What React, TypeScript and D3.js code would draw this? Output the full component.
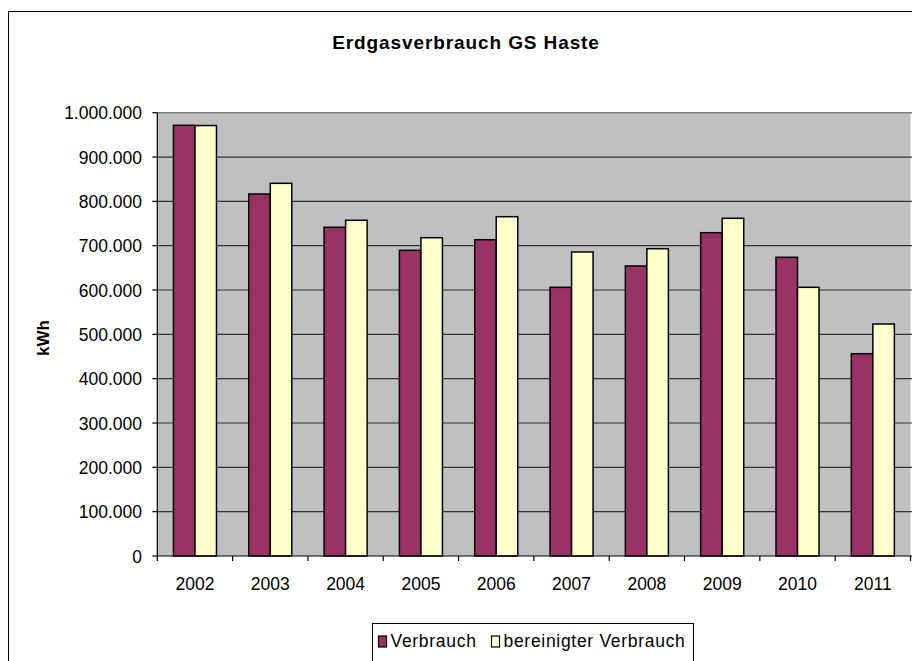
import * as d3 from "d3";

const years = ["2002", "2003", "2004", "2005", "2006", "2007", "2008", "2009", "2010", "2011"];
const verbrauch = [971600, 816600, 741500, 689600, 713500, 606100, 654200, 729300, 673800, 456300];
const bereinigt = [971000, 840700, 757300, 718000, 765400, 685800, 693200, 761800, 606100, 523300];
const yTicks = [0, 100000, 200000, 300000, 400000, 500000, 600000, 700000, 800000, 900000, 1000000];

const seriesNames = ["Verbrauch", "bereinigter Verbrauch"];
const seriesColors = ["#993366", "#FFFFCC"];

const W = 912;
const H = 661;
const plot = { left: 157.3, top: 112.7, right: 910.5, bottom: 556 };
const font = "'Liberation Sans', Arial, sans-serif";

const fmt = (v: number) => d3.format(",")(v).replace(/,/g, ".");

export default function App() {
  const x = d3.scaleBand<string>().domain(years).range([plot.left, plot.right]).paddingInner(0).paddingOuter(0);
  const bw = x.bandwidth() / 3.5;
  const x1 = d3.scaleBand<number>().domain([0, 1]).range([x.bandwidth() * 0.75 / 3.5, x.bandwidth() * 2.75 / 3.5]);
  const y = d3.scaleLinear().domain([0, 1000000]).range([plot.bottom, plot.top]);
  const series = [verbrauch, bereinigt];

  return (
    <svg width={W} height={H} style={{ position: "fixed", left: 0, top: 0, background: "#fff" }} fontFamily={font}>
      <rect x={8.5} y={11.5} width={W + 20} height={H + 20} fill="#fff" stroke="#000" strokeWidth={1} />
      <text x={466} y={49} textAnchor="middle" fontSize={19} fontWeight="bold" letterSpacing={0.9}>
        Erdgasverbrauch GS Haste
      </text>
      <rect x={plot.left} y={plot.top} width={plot.right - plot.left} height={plot.bottom - plot.top} fill="#C0C0C0" />
      <line x1={plot.left} x2={plot.right + 2} y1={plot.top} y2={plot.top} stroke="#808080" strokeWidth={1.5} />
      {yTicks.slice(1, -1).map((t) => (
        <line key={t} x1={plot.left} x2={plot.right + 2} y1={y(t)} y2={y(t)} stroke="#333" strokeWidth={1.2} />
      ))}
      {years.map((yr, i) => (
        <g key={yr}>
          {series.map((s, k) => (
            <rect
              key={k}
              x={(x(yr) as number) + (x1(k) as number)}
              y={y(s[i])}
              width={bw}
              height={plot.bottom - y(s[i])}
              fill={seriesColors[k]}
              stroke="#000"
              strokeWidth={1.5}
            />
          ))}
        </g>
      ))}
      <line x1={plot.left} x2={plot.left} y1={plot.top} y2={plot.bottom} stroke="#000" strokeWidth={1.2} />
      <line x1={plot.left} x2={plot.right + 2} y1={plot.bottom} y2={plot.bottom} stroke="#000" strokeWidth={1.2} />
      {yTicks.map((t) => (
        <g key={t}>
          <line x1={plot.left - 5} x2={plot.left} y1={y(t)} y2={y(t)} stroke="#000" strokeWidth={1.2} />
          <text x={142} y={y(t) + 6.5} textAnchor="end" fontSize={17.5}>
            {fmt(t)}
          </text>
        </g>
      ))}
      {years.concat(["end"]).map((yr, i) => {
        const xx = i < years.length ? (x(yr) as number) : plot.right;
        return <line key={yr} x1={xx} x2={xx} y1={plot.bottom} y2={plot.bottom + 5} stroke="#000" strokeWidth={1.2} />;
      })}
      {years.map((yr) => (
        <text key={yr} x={(x(yr) as number) + x.bandwidth() / 2} y={590} textAnchor="middle" fontSize={17.5}>
          {yr}
        </text>
      ))}
      <text transform="translate(49,338) rotate(-90)" textAnchor="middle" fontSize={17} fontWeight="bold">
        kWh
      </text>
      <rect x={372.5} y={623.5} width={321} height={38} fill="#fff" stroke="#000" strokeWidth={1} />
      {seriesNames.map((n, k) => {
        const sx = k === 0 ? 378.5 : 491.5;
        return (
          <g key={n}>
            <rect x={sx} y={636} width={8} height={11} fill={seriesColors[k]} stroke="#000" strokeWidth={1.2} />
            <text x={sx + 12} y={647} fontSize={17.5} letterSpacing={0.7}>
              {n}
            </text>
          </g>
        );
      })}
    </svg>
  );
}
